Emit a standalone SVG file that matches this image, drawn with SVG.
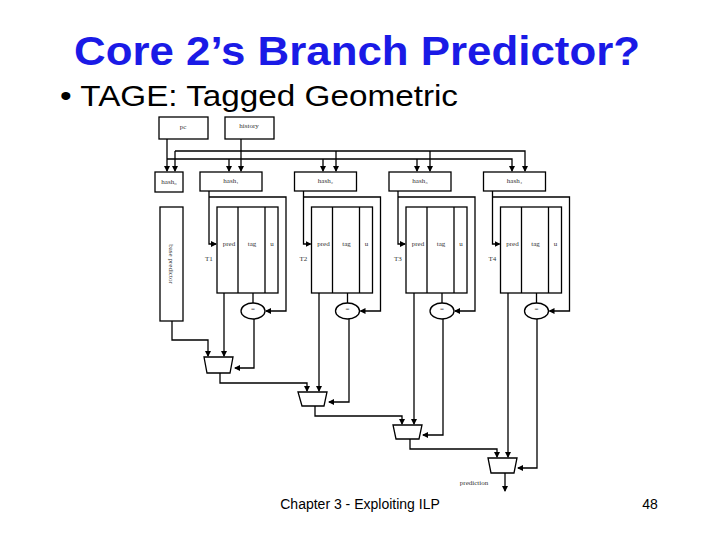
<svg xmlns="http://www.w3.org/2000/svg" width="720" height="540" viewBox="0 0 720 540">
<defs>
<marker id="a" markerWidth="6" markerHeight="6" refX="5" refY="3" orient="auto" markerUnits="userSpaceOnUse"><path d="M0,0 L6,3 L0,6z" fill="#000"/></marker>
<style>
.b{fill:#fff;stroke:#000;stroke-width:1.3}
.l{fill:none;stroke:#000;stroke-width:1.3}
.t{font-family:"Liberation Serif",serif;font-size:7px;fill:#333}
</style>
</defs>
<rect width="720" height="540" fill="#fff"/>
<text x="357" y="65" text-anchor="middle" font-family="Liberation Sans,Arial,sans-serif" font-weight="bold" font-size="40" textLength="566" lengthAdjust="spacingAndGlyphs" fill="#1a1ae6">Core 2’s Branch Predictor?</text>
<text x="60" y="106" font-family="Liberation Sans,Arial,sans-serif" font-size="29" textLength="398" lengthAdjust="spacingAndGlyphs" fill="#000">• TAGE: Tagged Geometric</text>
<text x="360" y="509" text-anchor="middle" font-family="Liberation Sans,Arial,sans-serif" font-size="14">Chapter 3 - Exploiting ILP</text>
<text x="650" y="509" text-anchor="middle" font-family="Liberation Sans,Arial,sans-serif" font-size="14">48</text>

<g id="connectors" class="l">
<path d="M167,139 V171" marker-end="url(#a)"/>
<path d="M167,159 H512 V171" marker-end="url(#a)"/>
<path d="M241,139 V171" marker-end="url(#a)"/>
<path d="M175,151 H525 V171" marker-end="url(#a)"/>
<path d="M175,151 V171" marker-end="url(#a)"/>
<path d="M229,159 V171" marker-end="url(#a)"/>
<path d="M323,159 V171" marker-end="url(#a)"/>
<path d="M336,151 V171" marker-end="url(#a)"/>
<path d="M417,159 V171" marker-end="url(#a)"/>
<path d="M430,151 V171" marker-end="url(#a)"/>
<g id="c1">
<path d="M209,191 V244 H216" marker-end="url(#a)"/>
<path d="M209,197 H286 V311 H266" marker-end="url(#a)"/>
<path d="M253,293 V303"/>
</g>
<use href="#c1" x="94.5"/><use href="#c1" x="189"/><use href="#c1" x="283.5"/>
<path d="M172,321 V340 H208 V356" marker-end="url(#a)"/>
<path d="M224,293 V356" marker-end="url(#a)"/>
<path d="M254,319 V368 H235" marker-end="url(#a)"/>
<path d="M220,373 V383 H307 V391" marker-end="url(#a)"/>
<path d="M319,293 V391" marker-end="url(#a)"/>
<path d="M349,319 V402 H329" marker-end="url(#a)"/>
<path d="M315,406 V416 H402 V424" marker-end="url(#a)"/>
<path d="M414,293 V424" marker-end="url(#a)"/>
<path d="M443,319 V435 H423" marker-end="url(#a)"/>
<path d="M410,439 V449 H497 V457" marker-end="url(#a)"/>
<path d="M508,293 V457" marker-end="url(#a)"/>
<path d="M537,319 V468 H518" marker-end="url(#a)"/>
<path d="M505,473 V491" marker-end="url(#a)"/>
</g>

<g id="pc"><rect class="b" x="159" y="117" width="49" height="22"/><text class="t" x="183" y="129" text-anchor="middle">pc</text></g>
<g id="history"><rect class="b" x="225" y="117" width="49" height="22"/><text class="t" x="249" y="128" text-anchor="middle">history</text></g>
<g id="hash0"><rect class="b" x="155" y="172" width="28" height="20"/><text class="t" x="169" y="184" text-anchor="middle">hash₀</text></g>
<g id="base"><rect class="b" x="160" y="207" width="23" height="114"/><text class="t" x="0" y="0" text-anchor="middle" transform="translate(169,264) rotate(90)">base predictor</text></g>

<g id="stage1">
<rect class="b" x="200" y="172" width="62" height="19"/><text class="t" x="231" y="183" text-anchor="middle">hash₁</text>
<rect class="b" x="217" y="207" width="61" height="86"/><path class="l" d="M238,207V293M265,207V293"/>
<text class="t" x="229" y="246" text-anchor="middle">pred</text><text class="t" x="252" y="246" text-anchor="middle">tag</text><text class="t" x="272" y="246" text-anchor="middle">u</text>
<text class="t" x="205" y="261">T1</text>
<ellipse class="b" cx="253" cy="311" rx="12" ry="8"/><text class="t" x="253" y="311" text-anchor="middle" font-size="5">=</text>
</g>
<g id="stage2" transform="translate(94.5,0)">
<rect class="b" x="200" y="172" width="62" height="19"/><text class="t" x="231" y="183" text-anchor="middle">hash₂</text>
<rect class="b" x="217" y="207" width="61" height="86"/><path class="l" d="M238,207V293M265,207V293"/>
<text class="t" x="229" y="246" text-anchor="middle">pred</text><text class="t" x="252" y="246" text-anchor="middle">tag</text><text class="t" x="272" y="246" text-anchor="middle">u</text>
<text class="t" x="205" y="261">T2</text>
<ellipse class="b" cx="253" cy="311" rx="12" ry="8"/><text class="t" x="253" y="311" text-anchor="middle" font-size="5">=</text>
</g>
<g id="stage3" transform="translate(189,0)">
<rect class="b" x="200" y="172" width="62" height="19"/><text class="t" x="231" y="183" text-anchor="middle">hash₃</text>
<rect class="b" x="217" y="207" width="61" height="86"/><path class="l" d="M238,207V293M265,207V293"/>
<text class="t" x="229" y="246" text-anchor="middle">pred</text><text class="t" x="252" y="246" text-anchor="middle">tag</text><text class="t" x="272" y="246" text-anchor="middle">u</text>
<text class="t" x="205" y="261">T3</text>
<ellipse class="b" cx="253" cy="311" rx="12" ry="8"/><text class="t" x="253" y="311" text-anchor="middle" font-size="5">=</text>
</g>
<g id="stage4" transform="translate(283.5,0)">
<rect class="b" x="200" y="172" width="62" height="19"/><text class="t" x="231" y="183" text-anchor="middle">hash₄</text>
<rect class="b" x="217" y="207" width="61" height="86"/><path class="l" d="M238,207V293M265,207V293"/>
<text class="t" x="229" y="246" text-anchor="middle">pred</text><text class="t" x="252" y="246" text-anchor="middle">tag</text><text class="t" x="272" y="246" text-anchor="middle">u</text>
<text class="t" x="205" y="261">T4</text>
<ellipse class="b" cx="253" cy="311" rx="12" ry="8"/><text class="t" x="253" y="311" text-anchor="middle" font-size="5">=</text>
</g>

<g id="mux1"><path class="b" d="M204,357 H233 L230,373 H207 Z"/></g>
<g id="mux2"><path class="b" d="M298,392 H327 L324,406 H302 Z"/></g>
<g id="mux3"><path class="b" d="M393,425 H422 L419,439 H396 Z"/></g>
<g id="mux4"><path class="b" d="M488,458 H517 L514,473 H491 Z"/></g>
<text id="prediction" class="t" x="474" y="485" text-anchor="middle">prediction</text>
</svg>
